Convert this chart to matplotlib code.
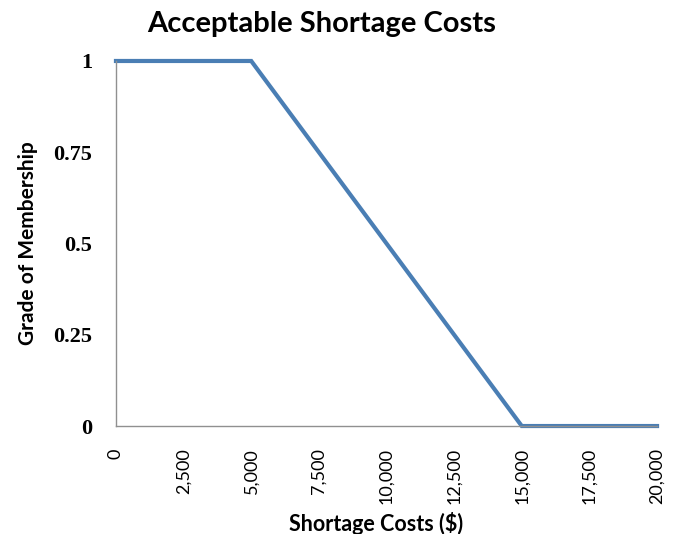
import matplotlib.pyplot as plt
from matplotlib.ticker import FuncFormatter

# membership function breakpoints
costs = [0, 5000, 15000, 20000]
membership = [1, 1, 0, 0]

x_ticks = [0, 2500, 5000, 7500, 10000, 12500, 15000, 17500, 20000]
y_ticks = [0, 0.25, 0.5, 0.75, 1]
y_tick_labels = ['0', '0.25', '0.5', '0.75', '1']

fig = plt.figure(figsize=(6.77, 5.34), dpi=100)
ax = fig.add_axes((0.1713, 0.2022, 0.7992, 0.6836))

ax.plot(costs, membership, color='#4a7eb4', linewidth=3, solid_joinstyle='miter', clip_on=False)

ax.set_xlim(0, 20000)
ax.set_ylim(0, 1)

for side in ['top', 'right']:
    ax.spines[side].set_visible(False)
for side in ['left', 'bottom']:
    ax.spines[side].set_color('#909090')
    ax.spines[side].set_linewidth(1)

ax.set_xticks(x_ticks)
ax.xaxis.set_major_formatter(FuncFormatter(lambda v, p: f'{int(v):,}'))
ax.tick_params(axis='x', length=0, pad=16, labelrotation=90, labelsize=13)
for lbl in ax.get_xticklabels():
    lbl.set_family('Lato')

ax.set_yticks(y_ticks)
ax.set_yticklabels(y_tick_labels)
ax.tick_params(axis='y', length=0, pad=17, labelsize=16)
for lbl in ax.get_yticklabels():
    lbl.set_family('Liberation Serif')
    lbl.set_fontweight('bold')

ax.set_xlabel('Shortage Costs ($)', fontsize=15.5, fontweight='bold', family='Lato')
ax.xaxis.set_label_coords(0.48, -0.235)
ax.set_ylabel('Grade of Membership', fontsize=15, fontweight='bold', family='Lato', labelpad=11)
fig.text(0.4756, 0.955, 'Acceptable Shortage Costs', ha='center', va='center',
         fontsize=21, fontweight='bold', family='Lato')

fig.savefig('out.png', dpi=100)
